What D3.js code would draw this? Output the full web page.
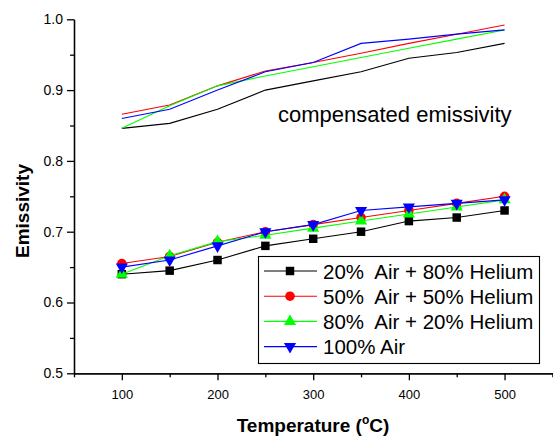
<!DOCTYPE html>
<html>
<head>
<meta charset="utf-8">
<script src="https://cdn.jsdelivr.net/npm/d3@7"></script>
<style>
  body { margin: 0; background: #fff; }
  svg { display: block; font-family: "Liberation Sans", Arial, sans-serif; }
  .axis path, .axis line { stroke: #000; stroke-width: 1.3; }
  .axis text { font-size: 13px; fill: #000; font-family: "Liberation Sans", Arial, sans-serif; }
</style>
</head>
<body>
<svg id="chart" width="553" height="440"></svg>
<script>
// temperatures (°C)
const temps = [100, 150, 200, 250, 300, 350, 400, 450, 500];

// compensated emissivity (upper lines, no markers)
const comp20 = [0.846, 0.853, 0.873, 0.900, 0.913, 0.926, 0.945, 0.953, 0.966];
const comp50 = [0.866, 0.879, 0.906, 0.927, 0.939, 0.952, 0.966, 0.979, 0.992];
const comp80 = [0.846, 0.878, 0.906, 0.920, 0.933, 0.946, 0.959, 0.972, 0.985];
const comp100 = [0.860, 0.873, 0.900, 0.926, 0.939, 0.966, 0.972, 0.979, 0.985];

// measured emissivity (lower lines, with markers)
const em20 = [0.640, 0.645, 0.660, 0.680, 0.690, 0.700, 0.715, 0.720, 0.730];
const em50 = [0.655, 0.665, 0.685, 0.700, 0.710, 0.720, 0.730, 0.740, 0.750];
const em80 = [0.640, 0.666, 0.686, 0.695, 0.705, 0.715, 0.725, 0.735, 0.745];
const em100 = [0.650, 0.660, 0.680, 0.700, 0.710, 0.730, 0.735, 0.740, 0.745];

const seriesNames = ['20%  Air + 80% Helium', '50%  Air + 50% Helium', '80%  Air + 20% Helium', '100% Air'];
const seriesColors = ['#000000', '#ff0000', '#00ff00', '#0000ff'];
const xMajorTicks = [100, 200, 300, 400, 500];
const xMinorTicks = [50, 150, 250, 350, 450, 550];
const yMajorTicks = [0.5, 0.6, 0.7, 0.8, 0.9, 1.0];
const yMinorTicks = [0.55, 0.65, 0.75, 0.85, 0.95];

const svg = d3.select('#chart');
const plotLeft = 74, plotRight = 552.4, plotTop = 19.3, plotBottom = 373.3;

const x = d3.scaleLinear().domain([50, 550]).range([plotLeft, plotRight]);
const y = d3.scaleLinear().domain([0.5, 1.0]).range([plotBottom, plotTop]);

// axes
svg.append('g').attr('class', 'axis')
  .attr('transform', `translate(0,${plotBottom})`)
  .call(d3.axisBottom(x).tickValues(xMinorTicks).tickSize(4).tickSizeOuter(0).tickFormat(''));
svg.append('g').attr('class', 'axis')
  .attr('transform', `translate(0,${plotBottom})`)
  .call(d3.axisBottom(x).tickValues(xMajorTicks).tickSize(7).tickSizeOuter(0).tickPadding(9).tickFormat(d3.format('d')));

svg.append('g').attr('class', 'axis')
  .attr('transform', `translate(${plotLeft},0)`)
  .call(d3.axisLeft(y).tickValues(yMinorTicks).tickSize(4).tickSizeOuter(0).tickFormat(''));
svg.append('g').attr('class', 'axis')
  .attr('transform', `translate(${plotLeft},0)`)
  .call(d3.axisLeft(y).tickValues(yMajorTicks).tickSize(7).tickSizeOuter(0).tickPadding(4).tickFormat(d3.format('.1f')))
  .selectAll('text').style('font-size', '14px');

// axis titles
svg.append('text')
  .attr('x', 313).attr('y', 432)
  .attr('text-anchor', 'middle')
  .style('font-size', '19px').style('font-weight', 'bold')
  .call(t => {
    t.append('tspan').text('Temperature (');
    t.append('tspan').text('o').attr('dy', -8).style('font-size', '12px');
    t.append('tspan').text('C)').attr('dy', 8);
  });

svg.append('text')
  .attr('transform', 'translate(29,211) rotate(-90)')
  .attr('text-anchor', 'middle')
  .style('font-size', '19px').style('font-weight', 'bold')
  .text('Emissivity');

const line = d3.line()
  .x((d, i) => x(temps[i]))
  .y(d => y(d));

// compensated lines
[comp20, comp50, comp80, comp100].forEach((vals, k) => {
  svg.append('path')
    .attr('d', line(vals))
    .attr('fill', 'none')
    .attr('stroke', seriesColors[k])
    .attr('stroke-width', 1.1);
});

svg.append('text')
  .attr('x', 278).attr('y', 121.5)
  .style('font-size', '22px')
  .text('compensated emissivity');

// marker shapes
const symbols = [
  d3.symbol().type(d3.symbolSquare).size(72),
  d3.symbol().type(d3.symbolCircle).size(72),
  d3.symbol().type(d3.symbolTriangle).size(64),
  d3.symbol().type(d3.symbolTriangle).size(64)
];
const rotations = [0, 0, 0, 180];

[em20, em50, em80, em100].forEach((vals, k) => {
  svg.append('path')
    .attr('d', line(vals))
    .attr('fill', 'none')
    .attr('stroke', seriesColors[k])
    .attr('stroke-width', 1.1);
  svg.append('g').selectAll('path')
    .data(vals)
    .join('path')
    .attr('d', symbols[k]())
    .attr('transform', (d, i) => `translate(${x(temps[i])},${y(d)}) rotate(${rotations[k]})`)
    .attr('fill', seriesColors[k]);
});

// legend
const legend = svg.append('g');
legend.append('rect')
  .attr('x', 258.5).attr('y', 256.5)
  .attr('width', 281).attr('height', 107)
  .attr('fill', '#fff')
  .attr('stroke', '#000')
  .attr('stroke-width', 1.1);

seriesNames.forEach((name, k) => {
  const ry = 271 + k * 25.2;
  legend.append('line')
    .attr('x1', 264).attr('x2', 317)
    .attr('y1', ry).attr('y2', ry)
    .attr('stroke', seriesColors[k])
    .attr('stroke-width', 1.1);
  legend.append('path')
    .attr('d', symbols[k]())
    .attr('transform', `translate(290,${ry}) rotate(${rotations[k]})`)
    .attr('fill', seriesColors[k]);
  legend.append('text')
    .attr('x', 323).attr('y', ry + 7.5)
    .style('font-size', '20.5px')
    .style('white-space', 'pre')
    .attr('xml:space', 'preserve')
    .text(name);
});
</script>
</body>
</html>
